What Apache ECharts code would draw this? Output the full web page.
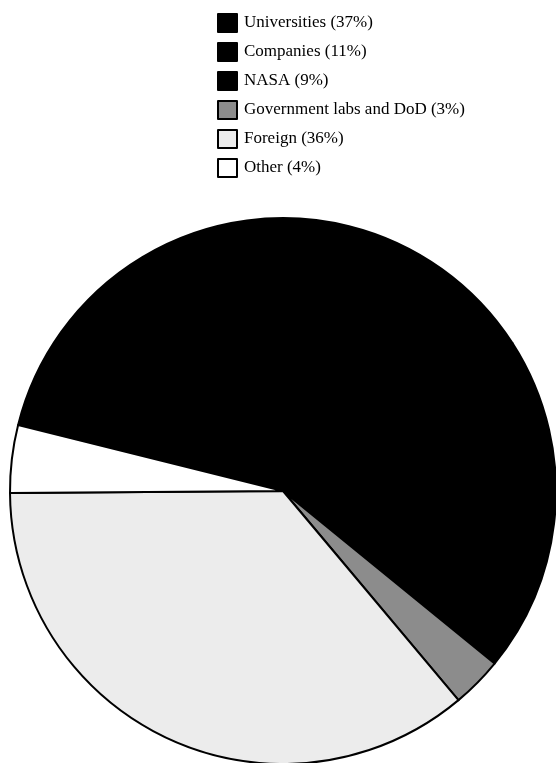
<!DOCTYPE html>
<html>
<head>
<meta charset="utf-8">
<script src="https://cdn.jsdelivr.net/npm/echarts@6/dist/echarts.min.js"></script>
<style>
  html, body { margin: 0; padding: 0; background: #fff; }
  #chart { width: 556px; height: 763px; }
</style>
</head>
<body>
<div id="chart"></div>
<script>
// Funding sources and their shares (percent)
const categories = ['Universities', 'Companies', 'NASA', 'Government labs and DoD', 'Foreign', 'Other'];
const shares = [37, 11, 9, 3, 36, 4];
const fills = ['#000000', '#000000', '#000000', '#8c8c8c', '#ececec', '#ffffff'];

const data = categories.map((name, i) => ({
  name: name,
  value: shares[i],
  itemStyle: { color: fills[i] }
}));

const chart = echarts.init(document.getElementById('chart'), null, { renderer: 'canvas' });
chart.setOption({
  animation: false,
  backgroundColor: '#ffffff',
  legend: {
    orient: 'vertical',
    left: 212,
    top: 8,
    icon: 'rect',
    itemWidth: 19,
    itemHeight: 18,
    itemGap: 9,
    selectedMode: false,
    formatter: function (name) {
      const i = categories.indexOf(name);
      return name + ' (' + shares[i] + '%)';
    },
    textStyle: {
      fontFamily: 'Liberation Serif',
      fontSize: 17,
      color: '#000',
      padding: [0, 0, 0, 2]
    }
  },
  series: [{
    type: 'pie',
    center: [283, 491],
    radius: [0, 273],
    startAngle: 166,
    clockwise: true,
    avoidLabelOverlap: false,
    label: { show: false },
    labelLine: { show: false },
    emphasis: { disabled: true },
    itemStyle: { borderColor: '#000', borderWidth: 2 },
    data: data
  }]
});
</script>
</body>
</html>
